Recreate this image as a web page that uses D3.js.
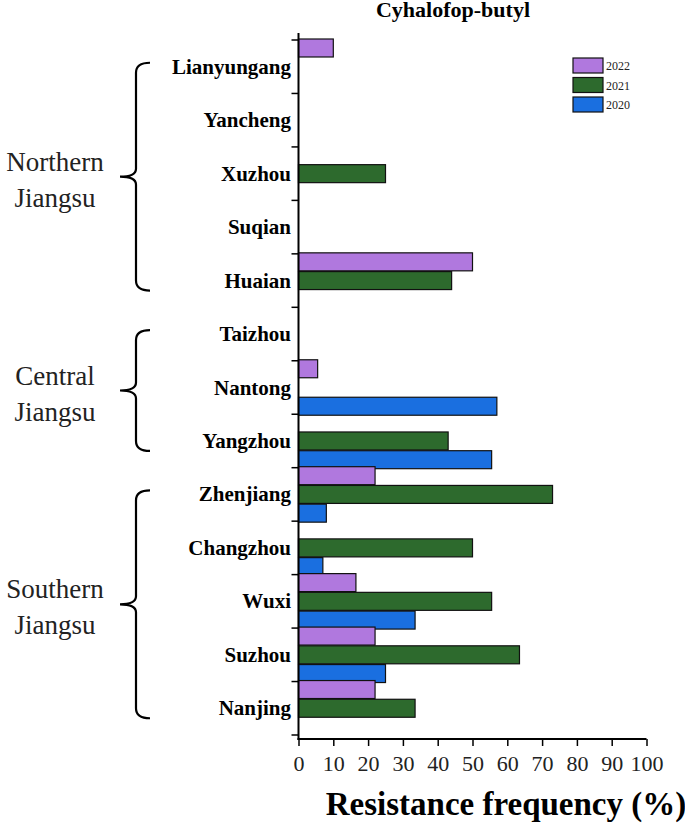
<!DOCTYPE html>
<html><head><meta charset="utf-8">
<script src="https://cdn.jsdelivr.net/npm/d3@7"></script>
<style>body{margin:0;background:#fff}text{font-family:"Liberation Serif","Times New Roman",serif}</style>
</head><body><div id="chart"></div>
<script>
const cities = ["Lianyungang","Yancheng","Xuzhou","Suqian","Huaian","Taizhou","Nantong","Yangzhou","Zhenjiang","Changzhou","Wuxi","Suzhou","Nanjing"];
const years = ["2022","2021","2020"];
const v2022 = [10,0,0,0,50,0,5.5,0,22,0,16.5,22,22];
const v2021 = [0,0,25,0,44,0,0,43,73,50,55.5,63.5,33.5];
const v2020 = [0,0,0,0,0,0,57,55.5,8,7,33.5,25,0];
const xTicks = [0,10,20,30,40,50,60,70,80,90,100];
const groups = [
  {name:["Northern","Jiangsu"], from:"Lianyungang", to:"Huaian"},
  {name:["Central","Jiangsu"], from:"Taizhou", to:"Yangzhou"},
  {name:["Southern","Jiangsu"], from:"Zhenjiang", to:"Nanjing"}
];
const colors = {"2022":"#b078de","2021":"#2d6a2d","2020":"#1a6fe0"};

const width = 685, height = 832;
const svg = d3.select("#chart").append("svg").attr("width", width).attr("height", height);

const x = d3.scaleLinear().domain([0,100]).range([298.5,646.5]);
const y = d3.scaleBand().domain(cities).range([40,735]);
const sub = d3.scaleBand().domain(years).range([-1, y.bandwidth()+1]).paddingInner(0.04);

const data = [];
cities.forEach((c,i) => {
  data.push({city:c, year:"2022", v:v2022[i]});
  data.push({city:c, year:"2021", v:v2021[i]});
  data.push({city:c, year:"2020", v:v2020[i]});
});

svg.selectAll("rect.bar").data(data.filter(d => d.v > 0)).enter().append("rect")
  .attr("x", x(0))
  .attr("y", d => y(d.city) + sub(d.year))
  .attr("width", d => x(d.v) - x(0))
  .attr("height", sub.bandwidth())
  .attr("fill", d => colors[d.year])
  .attr("stroke", "#111").attr("stroke-width", 1.2);

// x axis
const xa = svg.append("g").attr("transform", "translate(0,739)")
  .call(d3.axisBottom(x).tickValues(xTicks).tickSize(7).tickSizeOuter(0));
xa.select(".domain").attr("stroke-width", 2).attr("d", "M" + (x(0)-1) + ",0H" + x(100));
xa.selectAll(".tick line").attr("stroke-width", 1.5);
xa.selectAll("text").attr("font-size", 22).attr("fill", "#222").attr("dy", "1em");

// y axis
svg.append("line").attr("x1", x(0)).attr("x2", x(0)).attr("y1", 33).attr("y2", 740)
  .attr("stroke", "#000").attr("stroke-width", 2);
const bounds = cities.map(c => y(c)).concat([y.range()[1]]);
svg.selectAll("line.yt").data(bounds).enter().append("line")
  .attr("x1", x(0)-7).attr("x2", x(0)).attr("y1", d => d).attr("y2", d => d)
  .attr("stroke", "#000").attr("stroke-width", 1.5);
svg.selectAll("text.city").data(cities).enter().append("text")
  .attr("x", 291).attr("y", d => y(d) + y.bandwidth()/2 + 7)
  .attr("text-anchor", "end").attr("font-weight", "bold").attr("font-size", 21)
  .text(d => d);

// group braces
groups.forEach(g => {
  const y0 = y(g.from) + y.bandwidth()/2 - 4, y1 = y(g.to) + y.bandwidth()/2 + 10;
  const m = (y0 + y1) / 2, xr = 150, xb = 136, xt = 120;
  svg.append("path")
    .attr("d", `M${xr},${y0} Q${xb},${y0} ${xb},${y0+10} L${xb},${m-8} Q${xb},${m} ${xt},${m} Q${xb},${m} ${xb},${m+8} L${xb},${y1-10} Q${xb},${y1} ${xr},${y1}`)
    .attr("fill", "none").attr("stroke", "#000").attr("stroke-width", 2.2);
  svg.append("text").attr("x", 55).attr("y", m - 6).attr("text-anchor", "middle")
    .attr("font-size", 27).attr("fill", "#222").text(g.name[0]);
  svg.append("text").attr("x", 55).attr("y", m + 30).attr("text-anchor", "middle")
    .attr("font-size", 27).attr("fill", "#222").text(g.name[1]);
});

// legend
const lg = svg.append("g").attr("transform", "translate(573,58)");
years.forEach((yr, i) => {
  lg.append("rect").attr("x", 0).attr("y", i*19.5).attr("width", 30).attr("height", 15)
    .attr("fill", colors[yr]).attr("stroke", "#111").attr("stroke-width", 1.2);
  lg.append("text").attr("x", 33).attr("y", i*19.5 + 12).attr("font-size", 12).attr("fill", "#222").text(yr);
});

svg.append("text").attr("x", 453).attr("y", 17).attr("text-anchor", "middle")
  .attr("font-weight", "bold").attr("font-size", 22).text("Cyhalofop-butyl");
svg.append("text").attr("x", 506).attr("y", 815).attr("text-anchor", "middle")
  .attr("font-weight", "bold").attr("font-size", 33).text("Resistance frequency (%)");
</script></body></html>
